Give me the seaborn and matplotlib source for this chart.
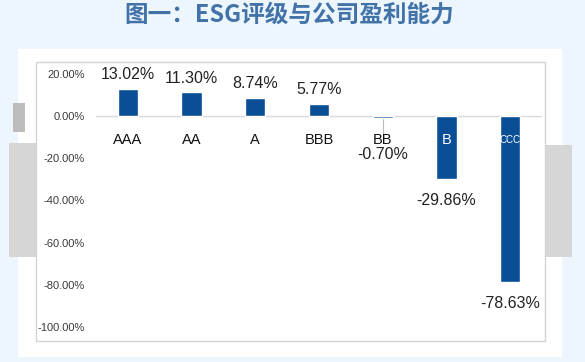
import matplotlib
matplotlib.use("Agg")
import matplotlib.pyplot as plt
from matplotlib.patches import Rectangle
import seaborn as sns
import pandas as pd

# ---- data ----
categories = ["AAA", "AA", "A", "BBB", "BB", "B", "CCC"]
values = [13.02, 11.30, 8.74, 5.77, -0.70, -29.86, -78.63]
y_ticks = [20, 0, -20, -40, -60, -80, -100]
title = "图一：ESG评级与公司盈利能力"

sns.set_theme(style="white")
plt.rcParams["font.family"] = ["Liberation Sans", "DejaVu Sans"]

W, H = 585, 362
fig = plt.figure(figsize=(W / 100, H / 100), dpi=100)
fig.patch.set_facecolor("#EDF5FD")


def px_rect(x0, y0, x1, y1, **kw):
    r = Rectangle((x0 / W, 1 - y1 / H), (x1 - x0) / W, (y1 - y0) / H,
                  transform=fig.transFigure, **kw)
    fig.add_artist(r)
    return r


# white panel
px_rect(18, 49, 562, 357, facecolor="white", edgecolor="none", zorder=-10)
# decorative gray blocks
px_rect(13, 103, 25, 132, facecolor="#BDBDBD", edgecolor="none", zorder=-9)
px_rect(9, 143, 36, 257, facecolor="#D6D6D6", edgecolor="none", zorder=-9)
px_rect(545, 145, 572, 257, facecolor="#D6D6D6", edgecolor="none", zorder=-9)
# chart frame
px_rect(36, 62, 545, 341, facecolor="white", edgecolor="#D3D3D3",
        linewidth=1.0, zorder=-8)

# title
fig.text(289 / W, 1 - 15 / H, title, ha="center", va="center",
         fontsize=17, fontweight="bold", color="#4172A8",
         family=["Noto Sans CJK SC", "DejaVu Sans"])

# axes: x 96..542 px, y 74 (20%) .. 327 (-100%)
ax = fig.add_axes([96 / W, 1 - 327 / H, 446 / W, 253 / H])
ax.set_facecolor("none")

df = pd.DataFrame({"cat": categories, "val": values})
bar_color = "#0A4E96"
sns.barplot(data=df, x="cat", y="val", color=bar_color, width=0.32,
            saturation=1, ax=ax, zorder=3)

ax.set_ylim(-100, 20)
ax.set_xlim(-0.5, len(categories) - 0.5)
ax.set_yticks(y_ticks)
ax.set_yticklabels([f"{t:.2f}%" for t in y_ticks], fontsize=8,
                   color="#3A3A3A")
ax.set_xticks([])
ax.set_xlabel("")
ax.set_ylabel("")
ax.tick_params(axis="y", length=0, pad=8)
for s in ax.spines.values():
    s.set_visible(False)
ax.axhline(0, color="#D9D9D9", linewidth=1.0, zorder=2)

# category labels (fixed position below zero line)
cat_y = -11.2
for i, (c, v) in enumerate(zip(categories, values)):
    inside = v < cat_y - 4
    ax.text(i, cat_y, c, ha="center", va="center",
            fontsize=(7 if (inside and len(c) > 1) else 10.5),
            color=("white" if inside else "#111111"), zorder=5)

# value labels
for i, v in enumerate(values):
    if v >= 0:
        y = v + 6.7
    else:
        y = min(v - 10.0, -18.4)
        if v > cat_y:
            ax.plot([i, i], [v, -8.4], color="#BBBBBB", linewidth=0.8,
                    zorder=2)
    ax.text(i, y, f"{v:.2f}%", ha="center", va="center", fontsize=11.5,
            color="#222222", zorder=5)

fig.savefig("out.png", dpi=100, facecolor=fig.get_facecolor())
